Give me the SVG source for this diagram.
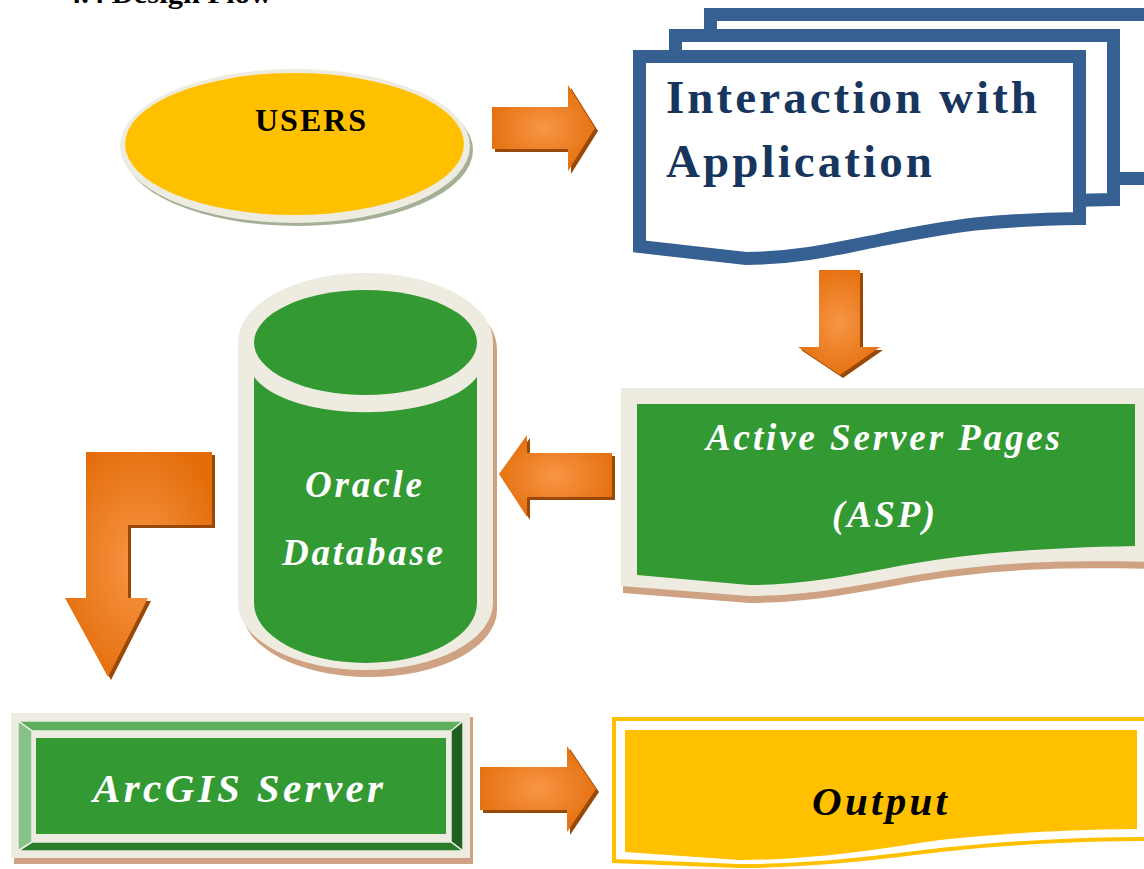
<svg xmlns="http://www.w3.org/2000/svg" width="1144" height="869" viewBox="0 0 1144 869">
  <defs>
    <radialGradient id="org" cx="0.5" cy="0.5" r="0.6">
      <stop offset="0" stop-color="#F79646"/>
      <stop offset="1" stop-color="#E36C09"/>
    </radialGradient>
    <style>
      .rim{fill:#EEECE1}
      .grn{fill:#339933}
      .brn{fill:#CFA283}
      .arr{fill:url(#org)}
      .ash{fill:#984807}
      .doc{fill:#FFFFFF;stroke:#376092;stroke-width:13;stroke-linejoin:miter}
      .wt{font-family:"Liberation Serif",serif;font-weight:bold;font-style:italic;fill:#FFFFFF}
      .bk{font-family:"Liberation Serif",serif;font-weight:bold;fill:#000000}
      .nv{font-family:"Liberation Serif",serif;font-weight:bold;fill:#17365D}
    </style>
  </defs>
  <rect width="1144" height="869" fill="#FFFFFF"/>

  <text x="66" y="3" class="bk" font-size="27" textLength="206" lengthAdjust="spacingAndGlyphs">4.4 Design Flow</text>

  <g id="users">
    <ellipse cx="298" cy="150" rx="175" ry="76" fill="#A4B096"/>
    <ellipse cx="295" cy="146" rx="175" ry="77" class="rim"/>
    <ellipse cx="294.5" cy="144" rx="169.5" ry="71" fill="#FFC000"/>
    <text x="255" y="131" class="bk" font-size="32" letter-spacing="2">USERS</text>
  </g>

  <g id="interaction">
    <path class="doc" d="M710.5,14.5 H1175 V178.5 H1110 L710,230 Z"/>
    <path class="doc" d="M675.5,35.5 H1113.5 V199.5 C1060,200 1010,205 960,212 C900,222 840,238 780,238 L675.5,226 Z"/>
    <path class="doc" d="M639.5,56.5 H1079.5 V218.5 C1040,219 1005,221 975,224 C935,229 905,235 880,240 C840,248 800,258 746,258.5 L639.5,246.5 Z"/>
    <text x="666" y="113" class="nv" font-size="47" textLength="371" lengthAdjust="spacing">Interaction with</text>
    <text x="666" y="177" class="nv" font-size="47" textLength="266" lengthAdjust="spacing">Application</text>
  </g>

  <g id="asp">
    <path class="brn" d="M623,396 H1150 V569 C1030,566 970,573 910,583 C860,592 810,603 749,603 L623,593 Z"/>
    <path class="rim" d="M621,388 H1150 V562 C1030,559 970,566 910,576 C860,585 810,596 749,596 L621,586 Z"/>
    <path class="grn" d="M637,404 H1135 V546 C1030,548 970,554 910,564 C860,573 810,585 749,585 L637,575 Z"/>
    <text x="706" y="450" class="wt" font-size="37" textLength="354" lengthAdjust="spacing">Active Server Pages</text>
    <text x="832" y="527" class="wt" font-size="37" textLength="103" lengthAdjust="spacing">(ASP)</text>
  </g>

  <g id="oracle">
    <path class="brn" d="M242,349 A127.5,69 0 0 1 497,349 V610 A127.5,67 0 0 1 242,610 Z"/>
    <path class="rim" d="M238,342 A127.5,69 0 0 1 493,342 V603 A127.5,67 0 0 1 238,603 Z"/>
    <ellipse cx="365.5" cy="342.5" rx="111.5" ry="52.5" class="grn"/>
    <path class="grn" d="M254,377 C290,424 441,424 477,377 V603 A111.5,60 0 0 1 254,603 Z"/>
    <text x="305" y="497" class="wt" font-size="37" textLength="117" lengthAdjust="spacing">Oracle</text>
    <text x="282" y="565" class="wt" font-size="37" textLength="161" lengthAdjust="spacing">Database</text>
  </g>

  <g id="arcgis">
    <rect x="14" y="717" width="459" height="147" class="brn"/>
    <rect x="11" y="713" width="459" height="145" class="rim"/>
    <g stroke="#EEECE1" stroke-width="1.5">
      <path d="M18,721 H463 L451,731 H32 Z" fill="#5DAE5D"/>
      <path d="M18,721 L32,731 V842 L18,851 Z" fill="#86C386"/>
      <path d="M463,721 V851 L451,842 V731 Z" fill="#1F5F1F"/>
      <path d="M18,851 L32,842 H451 L463,851 Z" fill="#2A7D2A"/>
    </g>
    <rect x="36" y="738" width="410" height="96" class="grn"/>
    <text x="93" y="802" class="wt" font-size="41" textLength="290" lengthAdjust="spacing">ArcGIS Server</text>
  </g>

  <g id="output">
    <path d="M614,719 H1160 V839 C1070,839 1010,843 940,850 C890,856 820,866 739,866 L614,861 Z" fill="#FFFFFF" stroke="#FFC000" stroke-width="4"/>
    <path d="M625,730 H1137 V829 C1050,830 1000,834 940,840 C890,847 820,860 739,860 L625,852 Z" fill="#FFC000"/>
    <text x="812" y="815" font-family="Liberation Serif, serif" font-weight="bold" font-style="italic" font-size="41" fill="#000000" textLength="135" lengthAdjust="spacing">Output</text>
  </g>

  <g id="connectors">
    <g transform="translate(3,3)" class="ash">
      <path d="M492,107 H568 V85 L595,128 L568,171 V149 H492 Z"/>
      <path d="M819,270 H860 V347 H880 L840,375 L798,347 H819 Z"/>
      <path d="M612,453 V497 H527 V517 L499,474 L527,435 V453 Z"/>
      <path d="M86,452 H212 V525 H128 V598 H148 L108,677 L65,598 H86 Z"/>
      <path d="M480,767 H567 V746 L596,789 L567,832 V810 H480 Z"/>
    </g>
    <path class="arr" d="M492,107 H568 V85 L595,128 L568,171 V149 H492 Z"/>
    <path class="arr" d="M819,270 H860 V347 H880 L840,375 L798,347 H819 Z"/>
    <path class="arr" d="M612,453 V497 H527 V517 L499,474 L527,435 V453 Z"/>
    <path class="arr" d="M86,452 H212 V525 H128 V598 H148 L108,677 L65,598 H86 Z"/>
    <path class="arr" d="M480,767 H567 V746 L596,789 L567,832 V810 H480 Z"/>
  </g>
</svg>
